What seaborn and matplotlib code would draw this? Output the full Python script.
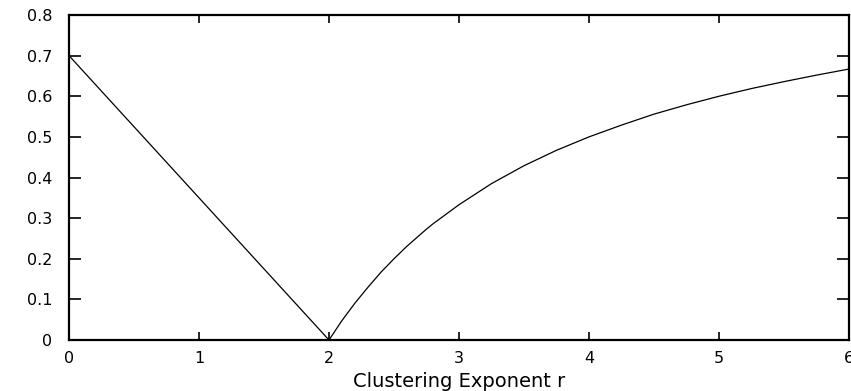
import matplotlib
matplotlib.use("Agg")
import matplotlib.pyplot as plt
import seaborn as sns
import pandas as pd

# Clustering exponent r and the plotted quantity
r_values = [0.0, 2.0, 2.05, 2.1, 2.2, 2.3, 2.4, 2.5, 2.6, 2.75, 2.8, 3.0, 3.25, 3.5,
            3.75, 4.0, 4.25, 4.5, 4.75, 5.0, 5.25, 5.5, 5.75, 6.0]
y_values = [0.7, 0.0, 0.024, 0.048, 0.091, 0.130, 0.167, 0.2, 0.231, 0.273, 0.286,
            0.333, 0.385, 0.429, 0.467, 0.5, 0.529, 0.556, 0.579, 0.6, 0.619, 0.636,
            0.652, 0.667]

x_ticks = [0, 1, 2, 3, 4, 5, 6]
y_ticks = [0, 0.1, 0.2, 0.3, 0.4, 0.5, 0.6, 0.7, 0.8]
y_tick_labels = ["0", "0.1", "0.2", "0.3", "0.4", "0.5", "0.6", "0.7", "0.8"]
x_label = "Clustering Exponent r"

sns.set_theme(style="white")
plt.rcParams["font.family"] = ["DejaVu Sans"]

df = pd.DataFrame({"r": r_values, "value": y_values})

fig = plt.figure(figsize=(8.51, 3.91), dpi=100)
ax = fig.add_axes([0.0811, 0.1304, 0.9165, 0.8312])

sns.lineplot(data=df, x="r", y="value", sort=False, color="black",
             linewidth=0.9, ax=ax)

ax.set_xlim(0, 6)
ax.set_ylim(0, 0.8)
ax.set_xticks(x_ticks)
ax.set_xticklabels([str(t) for t in x_ticks])
ax.set_yticks(y_ticks)
ax.set_yticklabels(y_tick_labels)
ax.set_xlabel(x_label, fontsize=14, color="black", labelpad=4)
ax.set_ylabel("")

for side in ["left", "right", "top", "bottom"]:
    ax.spines[side].set_visible(True)
    ax.spines[side].set_color("black")
    ax.spines[side].set_linewidth(1.6)

ax.tick_params(axis="x", direction="in", length=5.5, width=1.2, top=True,
               bottom=True, labelsize=11.5, pad=8, colors="black")
ax.tick_params(axis="y", direction="in", length=8.5, width=1.2, left=True,
               right=True, labelsize=11.5, pad=12, colors="black")
ax.grid(False)

fig.savefig("out.png", dpi=100)
